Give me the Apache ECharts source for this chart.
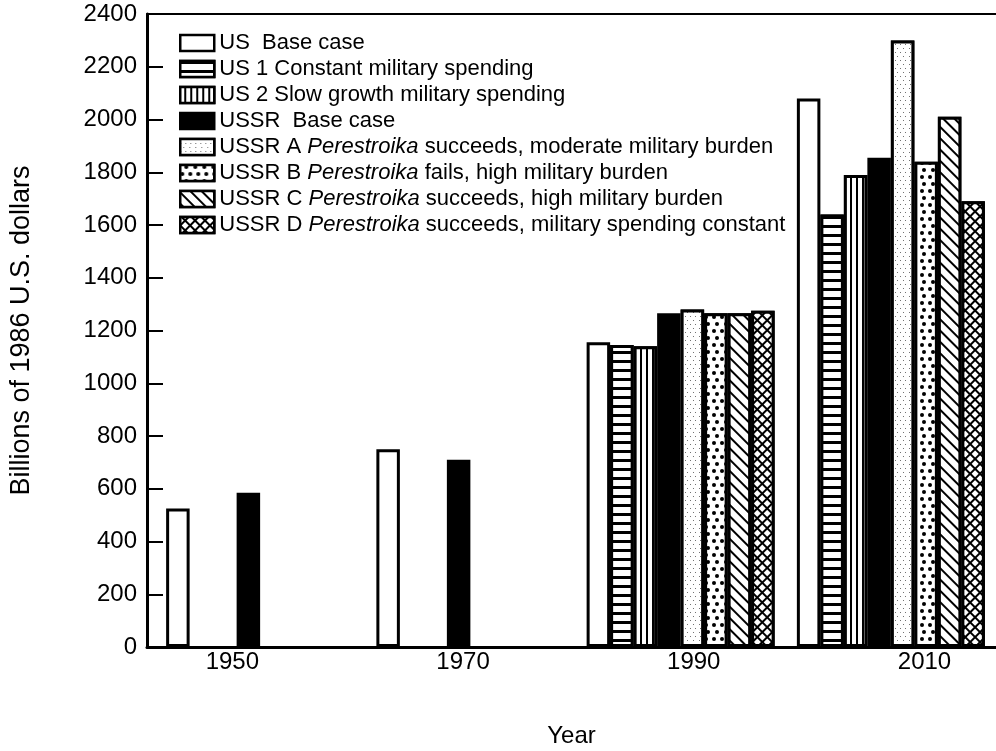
<!DOCTYPE html>
<html>
<head>
<meta charset="utf-8">
<script src="https://cdn.jsdelivr.net/npm/echarts@6/dist/echarts.min.js"></script>
<style>
  html, body { margin: 0; padding: 0; background: #fff; }
  #chart { width: 996px; height: 751px; }
</style>
</head>
<body>
<div id="chart"></div>
<script>
  // years on the category axis
  var years = ['1950', '1970', '1990', '2010'];
  var yearTicks = [1950, 1970, 1990, 2010];
  var valueTicks = [0, 200, 400, 600, 800, 1000, 1200, 1400, 1600, 1800, 2000, 2200, 2400];

  // billions of 1986 US dollars
  var usBase = [525, 750, 1155, 2080];
  var us1 = ['-', '-', 1145, 1640];
  var us2 = ['-', '-', 1140, 1790];
  var ussrBase = [585, 710, 1265, 1855];
  var ussrA = ['-', '-', 1280, 2300];
  var ussrB = ['-', '-', 1265, 1840];
  var ussrC = ['-', '-', 1265, 2010];
  var ussrD = ['-', '-', 1275, 1690];

  var names = [
    'US  Base case',
    'US 1 Constant military spending',
    'US 2 Slow growth military spending',
    'USSR  Base case',
    'USSR A Perestroika succeeds, moderate military burden',
    'USSR B Perestroika fails, high military burden',
    'USSR C Perestroika succeeds, high military burden',
    'USSR D Perestroika succeeds, military spending constant'
  ];

  var font = '"Liberation Sans", Helvetica, Arial, sans-serif';

  // fill patterns (hatching of the printed chart)
  var decals = [
    null,
    {symbol: 'rect', symbolSize: 1, dashArrayX: [[1, 0]], dashArrayY: [2.5, 5.5], color: '#000', backgroundColor: '#fff'},
    {symbol: 'rect', symbolSize: 1, dashArrayX: [[1, 0]], dashArrayY: [1.5, 3.5], rotation: Math.PI / 2, color: '#000', backgroundColor: '#fff'},
    null,
    {symbol: 'circle', symbolSize: 1, dashArrayX: [[1, 4], [0, 2.5, 1, 1.5]], dashArrayY: [1, 3], color: '#444', backgroundColor: '#fff'},
    {symbol: 'circle', symbolSize: 1, dashArrayX: [[3.5, 4], [0, 3.75, 3.5, 0.25]], dashArrayY: [3.5, 3], color: '#000', backgroundColor: '#fff'},
    {symbol: 'rect', symbolSize: 1, dashArrayX: [[1, 0]], dashArrayY: [2, 6], rotation: Math.PI / 4, color: '#000', backgroundColor: '#fff'},
    {symbol: 'rect', symbolSize: 1, dashArrayX: [4.5, 2], dashArrayY: [4.5, 2], rotation: Math.PI / 4, color: '#fff', backgroundColor: '#000'}
  ];
  var fills = ['#fff', '#fff', '#fff', '#000', '#fff', '#fff', '#fff', '#000'];
  var values = [usBase, us1, us2, ussrBase, ussrA, ussrB, ussrC, ussrD];

  function setupSeries() {
    var series = [];
    values.forEach(function (value, index) {
      var style = {color: fills[index], borderColor: '#000', borderWidth: 3};
      if (decals[index]) style.decal = decals[index];
      series.push({
        type: 'bar',
        name: names[index],
        xAxisIndex: 0,
        yAxisIndex: 0,
        data: value,
        barWidth: 23.5,
        barGap: '0%',
        itemStyle: style,
        emphasis: {disabled: true},
        silent: true
      });
    });
    return series;
  }

  var chart = echarts.init(document.getElementById('chart'));
  chart.setOption({
    animation: false,
    textStyle: {fontFamily: font},
    grid: [
      {left: 155, right: 0, top: 14, bottom: 104, outerBoundsMode: 'none', containLabel: false},
      {left: 147, right: 0, top: 14, bottom: 104, outerBoundsMode: 'none', containLabel: false}
    ],
    legend: {
      orient: 'vertical',
      left: 174,
      top: 25,
      itemWidth: 34,
      itemHeight: 16,
      itemGap: 0,
      icon: 'rect',
      selectedMode: false,
      data: names,
      itemStyle: {borderWidth: 2.5},
      formatter: function (name) {
        return name.replace('Perestroika', '{i|Perestroika}');
      },
      textStyle: {
        fontFamily: font, fontSize: 22, lineHeight: 26, color: '#000',
        rich: {i: {fontFamily: font, fontSize: 22, lineHeight: 26, fontStyle: 'italic', color: '#000'}}
      }
    },
    xAxis: [
      {
        type: 'category', gridIndex: 0, data: years,
        axisLine: {show: false}, axisTick: {show: false}, axisLabel: {show: false}
      },
      {
        type: 'value', gridIndex: 1, min: 1942.6, max: 2016.2,
        axisLine: {show: true, lineStyle: {color: '#000', width: 3}},
        axisTick: {show: false},
        splitLine: {show: false},
        axisLabel: {
          customValues: yearTicks, color: '#000', fontSize: 24, margin: 3,
          formatter: function (v) { return String(v); }
        },
        name: 'Year', nameLocation: 'middle', nameGap: 77,
        nameTextStyle: {color: '#000', fontSize: 24}
      },
      {
        type: 'value', gridIndex: 1, position: 'top', min: 1942.6, max: 2016.2,
        axisLine: {show: true, lineStyle: {color: '#000', width: 2}},
        axisTick: {show: false}, splitLine: {show: false}, axisLabel: {show: false}
      }
    ],
    yAxis: [
      {
        type: 'value', gridIndex: 0, min: 0, max: 2400, interval: 200, offset: 8,
        axisLine: {show: true, lineStyle: {color: '#000', width: 3}},
        axisTick: {show: true, inside: true, length: 16, lineStyle: {color: '#000', width: 2}},
        splitLine: {show: false},
        axisLabel: {
          color: '#000', fontSize: 24, margin: 10,
          customValues: valueTicks,
          formatter: function (v) { return String(v); }
        },
        name: 'Billions of 1986 U.S. dollars', nameLocation: 'middle', nameGap: 112,
        nameTextStyle: {color: '#000', fontSize: 27}
      },
      {type: 'value', gridIndex: 1, min: 0, max: 1, show: false}
    ],
    series: setupSeries()
  });
</script>
</body>
</html>
